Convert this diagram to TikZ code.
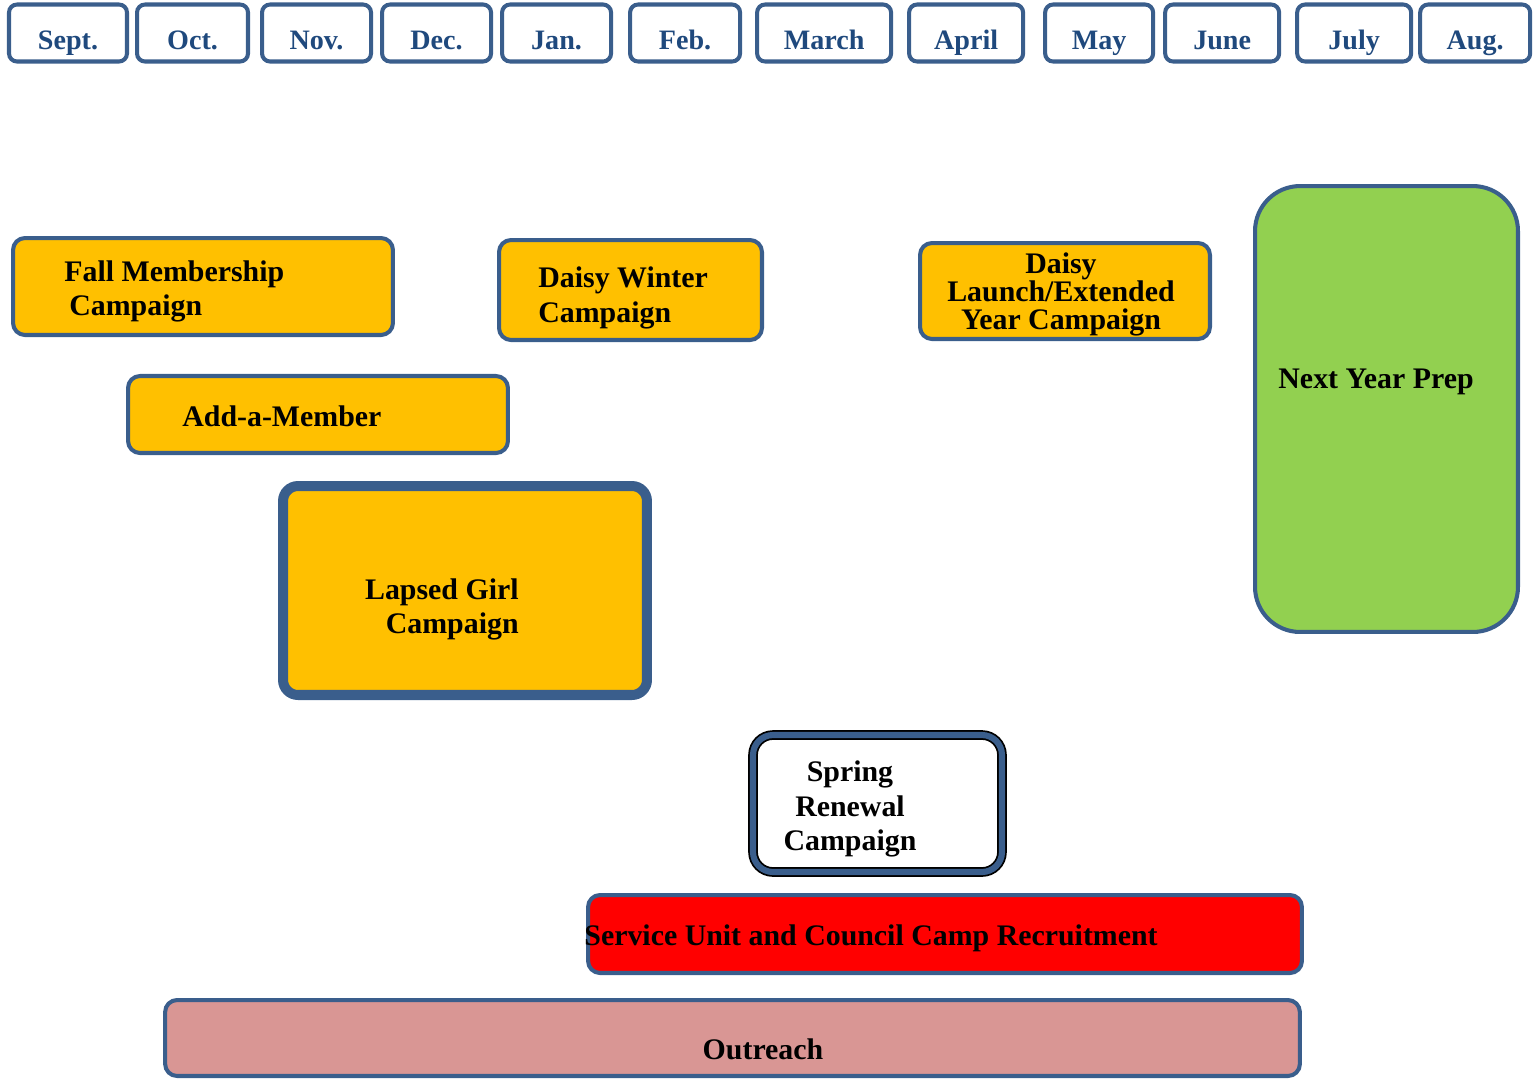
\documentclass[tikz,border=0pt]{standalone}
\usepackage{fontspec}
\setmainfont{Liberation Serif}
\usetikzlibrary{positioning}

\definecolor{boxline}{HTML}{3A5E8C}
\definecolor{monthtext}{HTML}{1F497D}
\definecolor{campyellow}{HTML}{FFC000}
\definecolor{prepgreen}{HTML}{92D050}
\definecolor{outreachpink}{HTML}{D99694}

\tikzset{
  month/.style={draw=boxline, line width=2.3pt, rounded corners=0.16cm,
    minimum height=1.14cm, inner sep=0pt, text=monthtext,
    font=\fontsize{16}{19}\selectfont\bfseries, text height=0.76cm, text depth=0.12cm},
  campaign/.style={draw=boxline, line width=2.3pt, rounded corners=0.24cm,
    fill=campyellow, inner sep=0pt},
  boxtext/.style={inner sep=0pt, font=\fontsize{17}{19.5}\selectfont\bfseries},
}

\begin{document}
\begin{tikzpicture}[x=0.02cm, y=-0.02cm]
\useasboundingbox (0,0) rectangle (1539,1080);

% months

\node[month, minimum width=2.36cm] (sep) at (68,33) {Sept.};
\node[month, minimum width=2.22cm, right=0.12cm of sep] (oct) {Oct.};
\node[month, minimum width=2.18cm, right=0.2cm of oct] (nov) {Nov.};
\node[month, minimum width=2.18cm, right=0.14cm of nov] (dec) {Dec.};
\node[month, minimum width=2.18cm, right=0.14cm of dec] (jan) {Jan.};
\node[month, minimum width=2.2cm, right=0.3cm of jan] (feb) {Feb.};
\node[month, minimum width=2.68cm, right=0.26cm of feb] (mar) {March};
\node[month, minimum width=2.28cm, right=0.28cm of mar] (apr) {April};
\node[month, minimum width=2.16cm, right=0.36cm of apr] (may) {May};
\node[month, minimum width=2.28cm, right=0.16cm of may] (jun) {June};
\node[month, minimum width=2.28cm, right=0.28cm of jun] (jul) {July};
\node[month, minimum width=2.2cm, right=0.1cm of jul] (aug) {Aug.};

% campaigns

\node[campaign, minimum width=7.6cm, minimum height=1.94cm] (fall) at (203,286.5) {};
\node[campaign, minimum width=5.26cm, minimum height=2.0cm] (winter) at (630.5,290) {};
\node[campaign, minimum width=5.8cm, minimum height=1.92cm] (launch) at (1065,291) {};
\node[campaign, minimum width=7.6cm, minimum height=1.54cm] (add) at (318,414.5) {};
\node[campaign, line width=5.7pt, rounded corners=0.3cm, minimum width=7.28cm, minimum height=4.18cm] (lapsed) at (465,590.5) {};
\node[campaign, fill=prepgreen, rounded corners=0.9cm, minimum width=5.26cm, minimum height=8.92cm] (prep) at (1386.5,409) {};
\node[draw=black, line width=1pt, double=boxline, double distance=3.5pt, rounded corners=0.4cm, fill=white, minimum width=4.98cm, minimum height=2.74cm] (spring) at (877.5,803.5) {};
\node[campaign, fill=red, minimum width=14.28cm, minimum height=1.56cm] (camp) at (945,934) {};
\node[campaign, fill=outreachpink, minimum width=22.7cm, minimum height=1.52cm] (outreach) at (732.5,1038) {};

% texts

\node[boxtext, anchor=west, align=left] (falltxt) at ([shift={(53,5)}]fall.west) {Fall Membership\\\hspace*{0.1cm}Campaign};
\node[boxtext, anchor=west, align=left] (wintertxt) at ([shift={(41,8)}]winter.west) {Daisy Winter\\Campaign};
\node[boxtext, align=center, font={\fontsize{17}{15.9}\selectfont\bfseries\lineskiplimit=-1cm\relax}] (launchtxt) at ([shift={(-4,3.5)}]launch.center) {Daisy\\Launch/Extended\\Year Campaign};
\node[boxtext, anchor=west] (addtxt) at ([shift={(56,2)}]add.west) {Add-a-Member};
\node[boxtext, anchor=east, align=right] (lapsedtxt) at ([shift={(-133,19)}]lapsed.east) {Lapsed Girl\\Campaign};
\node[boxtext] (preptxt) at ([shift={(-10.5,-27)}]prep.center) {Next Year Prep};
\node[boxtext, align=center] (springtxt) at ([shift={(-27.5,5.5)}]spring.center) {Spring\\Renewal\\Campaign};
\node[boxtext, anchor=west] (camptxt) at ([shift={(-2,4)}]camp.west) {Service Unit and Council Camp Recruitment};
\node[boxtext] (outreachtxt) at ([shift={(30.5,11)}]outreach.center) {Outreach};

\end{tikzpicture}
\end{document}
